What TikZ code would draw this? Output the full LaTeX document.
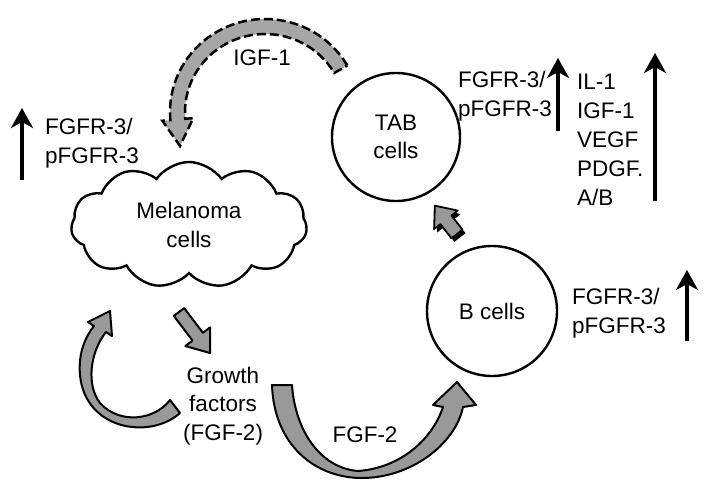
\documentclass[tikz,border=0pt]{standalone}
\usepackage{fontspec}
\setmainfont{Liberation Sans}
\usetikzlibrary{shapes.symbols,arrows.meta,calc}
\begin{document}
\begin{tikzpicture}[x=1pt,y=1pt,
  lbl/.style={font=\fontsize{22.5}{28.5}\selectfont, inner sep=0pt, align=center},
  lbll/.style={font=\fontsize{22.5}{28.5}\selectfont, inner sep=0pt, align=left, anchor=west},
  cellc/.style={circle, draw, line width=2.4pt, minimum size=128pt, inner sep=0pt, align=center, font=\fontsize{22.5}{28}\selectfont},
  uparr/.style={line width=4.5pt, -{Stealth[length=20pt,width=22pt,inset=6pt]}},
  blockarr/.style={draw=black, line width=2pt, fill=black!40, line join=round},
  dasharr/.style={draw=black, line width=2.5pt, fill=black!35, dash pattern=on 9pt off 4pt},
]
\useasboundingbox (0,0) rectangle (720,-498);

% cells
\node[cloud, draw, line width=2.4pt, cloud puffs=11, cloud puff arc=110, cloud ignores aspect,
      minimum width=236pt, minimum height=126pt, lbl] (mel) at (189,-225) {Melanoma\\cells};
\node[cellc] (tab) at (396,-137) {TAB\\cells};
\node[cellc, minimum size=130pt] (bc) at (492,-311) {B cells};

% labels
\node[lbl] (igf) at (262,-58) {IGF-1};
\node[lbl] (gf) at (223,-406) {Growth\\factors\\(FGF-2)};
\node[lbl] (fgf) at (365,-435) {FGF-2};
\node[lbll] (melr) at (45,-143) {FGFR-3/\\pFGFR-3};
\node[lbll] (tabr) at (458,-96) {FGFR-3/\\pFGFR-3};
\node[lbll, font=\fontsize{22.5}{29}\selectfont] (fac) at (577,-140) {IL-1\\IGF-1\\VEGF\\PDGF.\\A/B};
\node[lbll] (bcr) at (572,-313) {FGFR-3/\\pFGFR-3};

% up arrows
\coordinate (ma1) at (22,-180); \coordinate (ma2) at (22,-108);
\coordinate (ta1) at (558,-131); \coordinate (ta2) at (558,-58);
\coordinate (fa1) at (655,-201); \coordinate (fa2) at (655,-53);
\coordinate (ba1) at (687,-341); \coordinate (ba2) at (687,-270);
\draw[uparr] (ma1) -- (ma2);
\draw[uparr] (ta1) -- (ta2);
\draw[uparr] (fa1) -- (fa2);
\draw[uparr] (ba1) -- (ba2);

% dashed IGF-1 arrow (TAB -> melanoma)
\coordinate (igfc) at (265,-112);
\coordinate (igftip) at (180,-146);
\draw[dasharr] ($(igfc)+(30:95 and 93)$) arc[start angle=30, end angle=185, x radius=95, y radius=93]
  -- ($(igfc)+(185:103 and 101)$) -- (igftip) -- ($(igfc)+(185:72 and 70)$) -- ($(igfc)+(185:80 and 78)$)
  arc[start angle=185, end angle=30, x radius=80, y radius=78] -- cycle;

% small arrow B cells -> TAB cells
\begin{scope}[shift={(460,-237.5)}, rotate=128]
  \fill[black] (0,-7) -- (18,-7) -- (18,-15) -- (36,0) -- (18,15) -- (18,7) -- (0,7) -- cycle;
\end{scope}
\begin{scope}[shift={(457,-234)}, rotate=128]
  \draw[blockarr, line width=1.8pt] (0,-7) -- (18,-7) -- (18,-15) -- (36,0) -- (18,15) -- (18,7) -- (0,7) -- cycle;
\end{scope}

% melanoma -> growth factors
\begin{scope}[shift={(179,-312)}, rotate=-52.9]
  \draw[blockarr] (0,-6.5) -- (31,-6.5) -- (31,-15.5) -- (51.4,0) -- (31,15.5) -- (31,6.5) -- (0,6.5) -- cycle;
\end{scope}

% growth factors -> melanoma (curved)
\draw[blockarr] (180,-413) .. controls (150,-440) and (85,-430) .. (80,-375)
  .. controls (78,-352) and (86,-336) .. (94,-326) -- (88,-322) -- (110,-311) -- (112,-336) -- (106,-332)
  .. controls (90,-352) and (86,-385) .. (100,-403)
  .. controls (120,-425) and (155,-420) .. (170,-400) -- cycle;

% FGF-2 curved arrow to B cells
\draw[blockarr] (272,-385) .. controls (274,-445) and (315,-478) .. (362,-478)
  .. controls (410,-478) and (455,-445) .. (463,-407) -- (476,-405) -- (457,-382) -- (433,-405) -- (443,-407)
  .. controls (432,-440) and (400,-468) .. (358,-471)
  .. controls (320,-468) and (295,-430) .. (292,-385) -- cycle;
\end{tikzpicture}
\end{document}
